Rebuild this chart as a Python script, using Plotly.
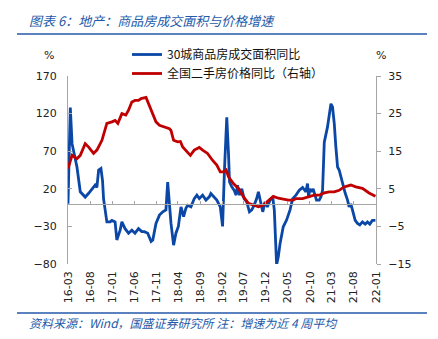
import plotly.graph_objects as go

# ---- data ----
blue_dates = ["2016-03-01","2016-03-17","2016-03-29","2016-04-20","2016-05-02","2016-05-25","2016-06-28","2016-07-22",
"2016-08-25","2016-09-05","2016-09-17","2016-09-29","2016-10-15","2016-10-26","2016-11-02","2016-11-13","2016-11-25",
"2016-12-18","2016-12-30","2017-01-21","2017-02-02","2017-02-25","2017-03-09","2017-03-31","2017-04-24","2017-05-17",
"2017-06-08","2017-07-02","2017-07-25","2017-08-12","2017-09-04","2017-09-27","2017-10-09","2017-10-31","2017-11-24",
"2017-12-17","2018-01-08","2018-01-20","2018-02-01","2018-02-12","2018-03-02","2018-03-18","2018-04-04","2018-04-22",
"2018-05-10","2018-05-26","2018-06-07","2018-06-30","2018-07-23","2018-08-10","2018-08-27","2018-09-19","2018-10-12",
"2018-11-04","2018-11-15","2018-12-03","2018-12-26","2019-01-19","2019-02-04","2019-02-17","2019-03-05","2019-03-17",
"2019-03-24","2019-04-09","2019-04-25","2019-05-09","2019-05-18","2019-06-01","2019-06-17","2019-07-03","2019-07-21",
"2019-08-09","2019-08-25","2019-09-10","2019-09-28","2019-10-10","2019-10-26","2019-11-09","2019-11-25","2019-12-11",
"2019-12-30","2020-01-17","2020-01-28","2020-02-06","2020-02-13","2020-02-25","2020-03-08","2020-03-30","2020-04-22",
"2020-05-16","2020-06-03","2020-06-26","2020-07-19","2020-08-11","2020-09-03","2020-09-14","2020-09-21","2020-10-01",
"2020-10-12","2020-10-23","2020-11-06","2020-11-15","2020-12-04","2020-12-16","2020-12-27","2021-01-08","2021-01-30",
"2021-02-23","2021-03-06","2021-03-18","2021-03-29","2021-04-10","2021-04-21","2021-05-14","2021-06-02","2021-06-18",
"2021-06-29","2021-07-11","2021-07-22","2021-08-10","2021-08-26","2021-09-11","2021-09-29","2021-10-18","2021-11-03",
"2021-11-19","2021-12-07","2021-12-28"]
blue_vals = [0,128,80,58,49,16,9,14,
22,25,22,45,47,31,7,-8,-24,
-24,-22,-24,-48,-35,-24,-33,-39,-35,
-39,-33,-37,-37,-39,-50,-48,-26,-15,
-10.6,-8,29,0,-26,-55,-39,-30,-4,
-17,-6,-2,-4,7,11.6,7,11.6,5,
9.3,13.8,9.3,5,-4,-30,45,115,67,
29,22.6,18,11.6,24.8,11.6,20,7,2.7,
-10.6,-8,-2,7,16,2.7,-10.6,2.7,-4,
5,9.3,-8,-44,-81,-70,-52.6,-30.5,-21.6,
-8,7,11.6,18,21.8,16,27,9.3,20,
16,20,11.6,5,5,9.3,18,82,102,
133,129,107,76,49,45,27,14,5,
-4,0,-8,-22,-26,-28,-24,-27,-24,
-27,-22,-22]

red_dates = ["2016-03-01","2016-03-29","2016-05-02","2016-05-25","2016-06-28","2016-07-22","2016-08-25","2016-09-17",
"2016-10-22","2016-11-25","2016-12-30","2017-01-21","2017-02-09","2017-03-09","2017-04-05","2017-04-24","2017-05-17",
"2017-06-08","2017-07-02","2017-07-20","2017-08-23","2017-09-16","2017-10-09","2017-10-31","2017-11-24","2017-12-28",
"2018-02-01","2018-02-12","2018-03-02","2018-03-30","2018-04-18","2018-05-04","2018-05-26","2018-06-26","2018-07-23",
"2018-08-27","2018-09-19","2018-10-23","2018-11-26","2018-12-26","2019-01-19","2019-02-10","2019-03-01","2019-03-17",
"2019-04-20","2019-05-25","2019-06-28","2019-08-02","2019-09-05","2019-10-10","2019-11-13","2019-12-18","2020-01-21",
"2020-02-25","2020-03-30","2020-05-04","2020-06-07","2020-06-26","2020-08-11","2020-09-26","2020-10-30","2020-12-04",
"2021-01-08","2021-02-11","2021-03-18","2021-04-21","2021-05-25","2021-07-11","2021-08-14","2021-09-29","2021-11-14",
"2021-12-28"]
red_vals = [10.4,13.9,13.0,13.9,17.0,16.1,14.4,15.3,
17.9,22.4,22.8,23.2,22.4,25.0,24.6,25.9,28.1,
28.5,28.5,29.0,29.3,27.2,25.0,22.8,21.9,21.4,
21.0,20.5,17.9,17.5,17.6,16.1,15.3,13.9,15.3,
16.0,15.3,14.4,12.6,11.3,9.5,9.5,10.0,8.2,
6.4,5.1,2.9,1.1,0.7,0.2,0.7,1.8,3.0,
2.5,2.2,2.0,2.0,2.4,2.4,2.9,3.3,3.3,
3.9,4.2,4.2,4.6,5.5,6.0,5.5,5.1,3.9,
3.0]

tick_dates = ["2016-03-01","2016-08-01","2017-01-01","2017-06-01","2017-11-01","2018-04-01","2018-09-01",
              "2019-02-01","2019-07-01","2019-12-01","2020-05-01","2020-10-01","2021-03-01","2021-08-01","2022-01-01"]
tick_labels = ["16-03","16-08","17-01","17-06","17-11","18-04","18-09","19-02","19-07","19-12",
               "20-05","20-10","21-03","21-08","22-01"]
left_ticks = [-80, -30, 20, 70, 120, 170]
right_ticks = [-15, -5, 5, 15, 25, 35]

name_blue = "30城商品房成交面积同比"
name_red = "全国二手房价格同比（右轴）"
title_text = "图表 6：地产：商品房成交面积与价格增速"
source_text = "资料来源：Wind，国盛证券研究所 注：增速为近 4 周平均"

# ---- layout constants ----
W, H = 438, 339
L, R, T, B = 68, 62, 76, 75
pw, ph = W - L - R, H - T - B
def px(x): return (x - L) / pw
def py(y): return (H - B - y) / ph

BLUE = "#0B47A6"
RED = "#C00000"
NAVY = "#2459A8"
GRAY = "#A6A6A6"
TICKF = dict(family="DejaVu Sans, Verdana, sans-serif", size=11, color="#222222")
CJK = "Noto Sans CJK SC"

xrange_ = ["2016-03-01", "2022-01-01"]

fig = go.Figure()
fig.add_trace(go.Scatter(x=blue_dates, y=blue_vals, name=name_blue, mode="lines",
                         line=dict(color=BLUE, width=2.8), yaxis="y"))
fig.add_trace(go.Scatter(x=red_dates, y=red_vals, name=name_red, mode="lines",
                         line=dict(color=RED, width=2.8), yaxis="y2"))
# invisible helper trace for the zero-crossing axis
fig.add_trace(go.Scatter(x=xrange_, y=[0, 0], xaxis="x2", yaxis="y", mode="lines",
                         line=dict(width=0), showlegend=False, hoverinfo="skip"))

fig.update_layout(
    width=W, height=H, margin=dict(l=L, r=R, t=T, b=B),
    paper_bgcolor="white", plot_bgcolor="white",
    showlegend=True,
    legend=dict(x=px(127), y=py(40), xanchor="left", yanchor="top",
                font=dict(family=CJK, size=12, color="#111111"),
                bgcolor="rgba(0,0,0,0)", tracegroupgap=0, itemwidth=30),
    xaxis=dict(type="date", range=xrange_, tickvals=tick_dates, ticktext=tick_labels,
               tickangle=-90, tickfont=TICKF, showgrid=False, showline=False, ticks="",
               zeroline=False, ticklabelstandoff=4),
    xaxis2=dict(type="date", range=xrange_, overlaying="x", anchor="free", position=80/250,
                tickvals=tick_dates, showticklabels=False, ticks="inside", ticklen=3,
                tickcolor=GRAY, showline=True, linecolor=GRAY, linewidth=1, showgrid=False,
                zeroline=False),
    yaxis=dict(range=[-80, 170], tickvals=left_ticks, tickfont=TICKF, showgrid=False,
               zeroline=False, showline=True, linecolor=GRAY, linewidth=1,
               ticks="inside", ticklen=4, tickcolor=GRAY, ticklabelstandoff=8),
    yaxis2=dict(range=[-15, 35], tickvals=right_ticks, tickfont=TICKF, overlaying="y",
                side="right", showgrid=False, zeroline=False, showline=True,
                linecolor=GRAY, linewidth=1, ticks="outside", ticklen=4, tickcolor=GRAY,
                ticklabelstandoff=5),
)

ann = []
ann.append(dict(text="<i>" + title_text + "</i>", x=px(27), y=py(20), xref="paper", yref="paper",
                xanchor="left", yanchor="middle", showarrow=False,
                font=dict(family=CJK, size=13, color=NAVY)))
ann.append(dict(text="<i>" + source_text + "</i>", x=px(27), y=py(322), xref="paper", yref="paper",
                xanchor="left", yanchor="middle", showarrow=False,
                font=dict(family=CJK, size=12, color=NAVY)))
ann.append(dict(text="%", x=px(49), y=py(55), xref="paper", yref="paper",
                xanchor="center", yanchor="middle", showarrow=False,
                font=dict(family="DejaVu Sans", size=11, color="#222222")))
ann.append(dict(text="%", x=px(381), y=py(55), xref="paper", yref="paper",
                xanchor="center", yanchor="middle", showarrow=False,
                font=dict(family="DejaVu Sans", size=11, color="#222222")))
fig.update_layout(annotations=ann)

shapes = []
for yy in (34, 313):
    shapes.append(dict(type="line", xref="paper", yref="paper", x0=px(17), x1=px(427),
                       y0=py(yy), y1=py(yy), line=dict(color=NAVY, width=1.6)))
fig.update_layout(shapes=shapes)

fig.write_html("out.html")
